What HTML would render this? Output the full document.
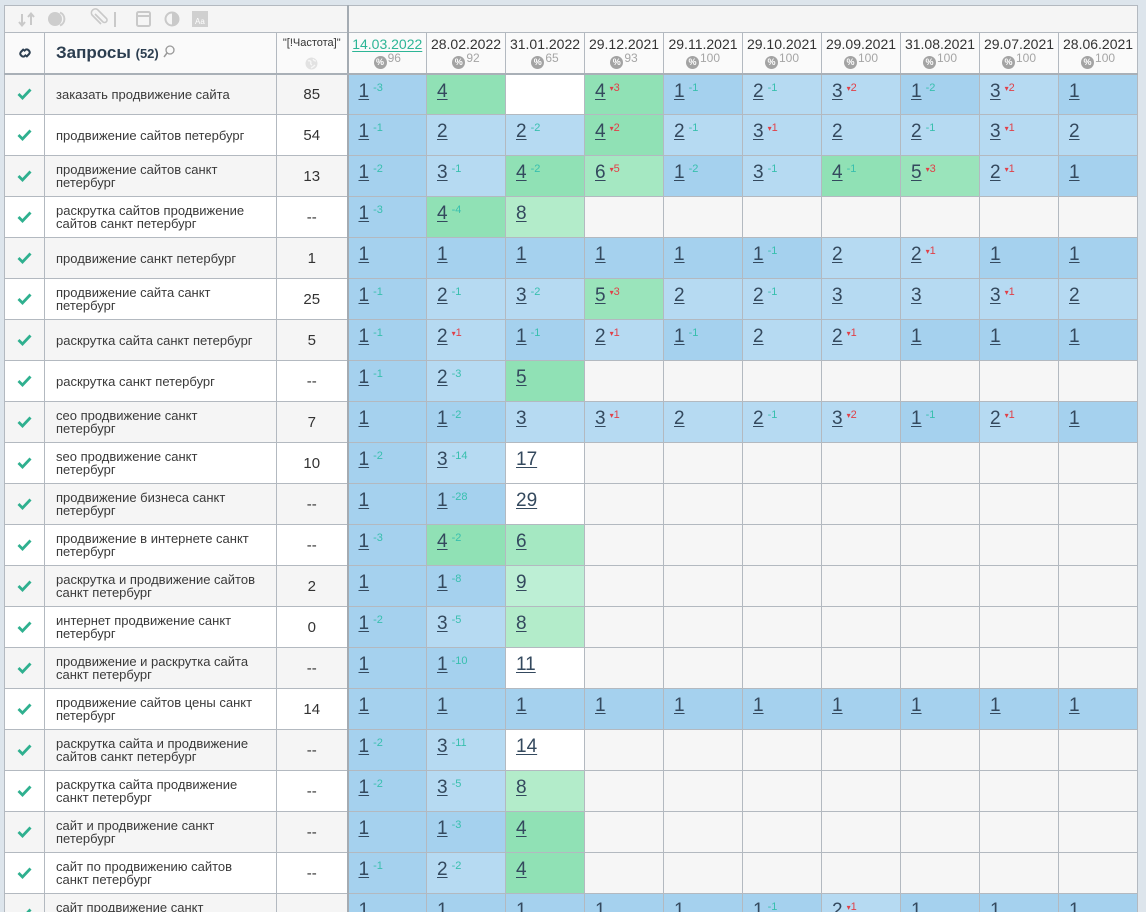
<!DOCTYPE html>
<html><head><meta charset="utf-8">
<style>
body{margin:0;width:1146px;height:912px;background:#dde5ec;overflow:hidden;font-family:"Liberation Sans","DejaVu Sans",sans-serif;position:relative}
#w{position:absolute;left:4px;top:5px;width:1134px;height:907px;overflow:hidden}
table{border-collapse:collapse;table-layout:fixed;width:1133px}
td{border:1px solid #b3b9c0;padding:0;overflow:hidden;white-space:nowrap}
tr.t{height:27px}
tr.t td{background:#f5f5f5}
tr.h{height:41px}
tr.h td{background:#fafafa;border-bottom:2px solid #a9b0b7}
tr.r{height:41px}
.sep{border-left:2px solid #a4abb2 !important}
tr.o td.k,tr.o td.q,tr.o td.f{background:#f5f5f5}
tr.e td.k,tr.e td.q,tr.e td.f{background:#ffffff}
td.k{text-align:center;vertical-align:middle}
td.k svg{display:block;margin:0 auto}
td.q{padding-left:11px;font-size:13px;line-height:13px;color:#3a3a3a}
td.f{text-align:center;font-size:15px;color:#333}
td.p{vertical-align:top;padding:6px 0 0 10px;font-size:19px;line-height:22px;color:#34495e}
td.p u{text-decoration:underline;text-underline-offset:2px;text-decoration-thickness:1px}
td.p i{font-style:normal;font-size:11px;position:relative;top:-6px;margin-left:4px}
i.g{color:#38bfae}
i.r{color:#e04048}
i.g:before{content:"-"}
i.r:before{content:"▾";font-size:8px}
.a{background:#a5d1ee}
.b{background:#b6daf2}
.c{background:#90e1b5}
.c5{background:#9ae4bb}
.d{background:#a5e8c2}
.e8{background:#b3ecca}
.f9{background:#bdefd5}
.w{background:#ffffff}
.n{background:#f6f6f6}
td.hd{vertical-align:top;padding-top:3px;text-align:center;line-height:16px;font-size:14px;color:#333}
td.hd .pc{margin-top:4px;height:14px;line-height:14px;font-size:12px;color:#a5a5a5;position:relative}
td.hd .pc b{display:inline-block;width:13px;height:13px;border-radius:50%;background:#a3a3a3;color:#fff;font-size:9px;line-height:13px;text-align:center;vertical-align:top}
td.hd .pc span{position:relative;top:-5px;margin-left:1px}
td.hd .first{color:#2db596;text-decoration:underline;text-underline-offset:2px}
</style></head><body>
<div id="w">
<table>
<colgroup><col style="width:40px"><col style="width:232px"><col style="width:71px"><col style="width:79px"><col style="width:79px"><col style="width:79px"><col style="width:79px"><col style="width:79px"><col style="width:79px"><col style="width:79px"><col style="width:79px"><col style="width:79px"><col style="width:79px"></colgroup>
<tr class="t"><td colspan="3" style="position:relative">
<svg width="230" height="26" style="position:absolute;left:0;top:0">
<g fill="none" stroke="#c9c9c9" stroke-width="2">
<path d="M17 8 V19 M14 16 L17 19.5 L20 16"/><path d="M26 19 V8 M23 11 L26 7.5 L29 11"/>
<path d="M90 8 l8 8 a2.5 2.5 0 0 0 3.5 -3.5 l-9 -9 a4 4 0 0 0 -5.5 5.5 l9 9" stroke-width="1.6"/>
<path d="M110 6 V21"/>
<rect x="132" y="6" width="13" height="14" rx="1.5"/><path d="M132 10 H145"/>
<circle cx="167" cy="13" r="6.5"/>
</g>
<circle cx="50" cy="13" r="7" fill="#cdcdcd"/><path d="M55 6.5 a7 7 0 0 1 0 13" fill="none" stroke="#cdcdcd" stroke-width="2"/>
<path d="M167 6.5 a6.5 6.5 0 0 1 0 13 z" fill="#c9c9c9"/>
<rect x="187" y="5" width="16" height="16" fill="#d0d0d0"/>
<text x="190" y="18" font-size="8" fill="#fff" font-family="Liberation Sans">Aa</text>
</svg></td><td colspan="10" class="sep"></td></tr>
<tr class="h">
<td class="k"><svg width="16" height="16" viewBox="0 0 14 14"><g fill="none" stroke="#2c3e50" stroke-width="1.8"><path d="M6 3.5 L3.5 6 a2 2 0 0 0 0 3 l0.5 0.5 a2 2 0 0 0 3 0 l1 -1"/><path d="M8 10.5 L10.5 8 a2 2 0 0 0 0 -3 l-0.5 -0.5 a2 2 0 0 0 -3 0 l-1 1"/></g></svg></td>
<td style="padding-left:11px;color:#2c3e50;font-size:17px;font-weight:bold;vertical-align:middle">Запросы <span style="font-size:13px">(52)</span> <svg width="12" height="13" viewBox="0 0 12 13" style="vertical-align:0"><circle cx="7" cy="5" r="4" fill="none" stroke="#999" stroke-width="1.3"/><path d="M4 8 L1 12" stroke="#999" stroke-width="1.5"/></svg></td>
<td style="vertical-align:top;text-align:center;font-size:11px;color:#333;padding-top:4px;line-height:12px">"[!Частота]"<svg width="13" height="13" style="display:block;margin:8px auto 0"><circle cx="6.5" cy="6.5" r="6" fill="#e2e2e2"/><path d="M3 4 q2 -1 3 1 q-1 2 1 3 M8 2 q1 2 3 2 M6 11 q2 -1 4 -3" stroke="#f6f6f6" stroke-width="1.3" fill="none"/></svg></td>
<td class="hd sep"><div class="first">14.03.2022</div><div class="pc"><b>%</b><span>96</span></div></td>
<td class="hd"><div>28.02.2022</div><div class="pc"><b>%</b><span>92</span></div></td>
<td class="hd"><div>31.01.2022</div><div class="pc"><b>%</b><span>65</span></div></td>
<td class="hd"><div>29.12.2021</div><div class="pc"><b>%</b><span>93</span></div></td>
<td class="hd"><div>29.11.2021</div><div class="pc"><b>%</b><span>100</span></div></td>
<td class="hd"><div>29.10.2021</div><div class="pc"><b>%</b><span>100</span></div></td>
<td class="hd"><div>29.09.2021</div><div class="pc"><b>%</b><span>100</span></div></td>
<td class="hd"><div>31.08.2021</div><div class="pc"><b>%</b><span>100</span></div></td>
<td class="hd"><div>29.07.2021</div><div class="pc"><b>%</b><span>100</span></div></td>
<td class="hd"><div>28.06.2021</div><div class="pc"><b>%</b><span>100</span></div></td>
</tr>

<tr class="r o"><td class="k"><svg width="15" height="12"><path d="M1.5 6 L5.5 10 L13.5 1.5" stroke="#2fb08f" stroke-width="2.8" fill="none"/></svg></td><td class="q">заказать продвижение сайта</td><td class="f">85</td>
<td class="p a sep"><u>1</u><i class="g">3</i></td><td class="p c"><u>4</u></td><td class="p w"></td><td class="p c"><u>4</u><i class="r">3</i></td><td class="p a"><u>1</u><i class="g">1</i></td><td class="p b"><u>2</u><i class="g">1</i></td><td class="p b"><u>3</u><i class="r">2</i></td><td class="p a"><u>1</u><i class="g">2</i></td><td class="p b"><u>3</u><i class="r">2</i></td><td class="p a"><u>1</u></td></tr>

<tr class="r e"><td class="k"><svg width="15" height="12"><path d="M1.5 6 L5.5 10 L13.5 1.5" stroke="#2fb08f" stroke-width="2.8" fill="none"/></svg></td><td class="q">продвижение сайтов петербург</td><td class="f">54</td>
<td class="p a sep"><u>1</u><i class="g">1</i></td><td class="p b"><u>2</u></td><td class="p b"><u>2</u><i class="g">2</i></td><td class="p c"><u>4</u><i class="r">2</i></td><td class="p b"><u>2</u><i class="g">1</i></td><td class="p b"><u>3</u><i class="r">1</i></td><td class="p b"><u>2</u></td><td class="p b"><u>2</u><i class="g">1</i></td><td class="p b"><u>3</u><i class="r">1</i></td><td class="p b"><u>2</u></td></tr>

<tr class="r o"><td class="k"><svg width="15" height="12"><path d="M1.5 6 L5.5 10 L13.5 1.5" stroke="#2fb08f" stroke-width="2.8" fill="none"/></svg></td><td class="q">продвижение сайтов санкт<br>петербург</td><td class="f">13</td>
<td class="p a sep"><u>1</u><i class="g">2</i></td><td class="p b"><u>3</u><i class="g">1</i></td><td class="p c"><u>4</u><i class="g">2</i></td><td class="p d"><u>6</u><i class="r">5</i></td><td class="p a"><u>1</u><i class="g">2</i></td><td class="p b"><u>3</u><i class="g">1</i></td><td class="p c"><u>4</u><i class="g">1</i></td><td class="p c5"><u>5</u><i class="r">3</i></td><td class="p b"><u>2</u><i class="r">1</i></td><td class="p a"><u>1</u></td></tr>

<tr class="r e"><td class="k"><svg width="15" height="12"><path d="M1.5 6 L5.5 10 L13.5 1.5" stroke="#2fb08f" stroke-width="2.8" fill="none"/></svg></td><td class="q">раскрутка сайтов продвижение<br>сайтов санкт петербург</td><td class="f">--</td>
<td class="p a sep"><u>1</u><i class="g">3</i></td><td class="p c"><u>4</u><i class="g">4</i></td><td class="p e8"><u>8</u></td><td class="p n"></td><td class="p n"></td><td class="p n"></td><td class="p n"></td><td class="p n"></td><td class="p n"></td><td class="p n"></td></tr>

<tr class="r o"><td class="k"><svg width="15" height="12"><path d="M1.5 6 L5.5 10 L13.5 1.5" stroke="#2fb08f" stroke-width="2.8" fill="none"/></svg></td><td class="q">продвижение санкт петербург</td><td class="f">1</td>
<td class="p a sep"><u>1</u></td><td class="p a"><u>1</u></td><td class="p a"><u>1</u></td><td class="p a"><u>1</u></td><td class="p a"><u>1</u></td><td class="p a"><u>1</u><i class="g">1</i></td><td class="p b"><u>2</u></td><td class="p b"><u>2</u><i class="r">1</i></td><td class="p a"><u>1</u></td><td class="p a"><u>1</u></td></tr>

<tr class="r e"><td class="k"><svg width="15" height="12"><path d="M1.5 6 L5.5 10 L13.5 1.5" stroke="#2fb08f" stroke-width="2.8" fill="none"/></svg></td><td class="q">продвижение сайта санкт<br>петербург</td><td class="f">25</td>
<td class="p a sep"><u>1</u><i class="g">1</i></td><td class="p b"><u>2</u><i class="g">1</i></td><td class="p b"><u>3</u><i class="g">2</i></td><td class="p c5"><u>5</u><i class="r">3</i></td><td class="p b"><u>2</u></td><td class="p b"><u>2</u><i class="g">1</i></td><td class="p b"><u>3</u></td><td class="p b"><u>3</u></td><td class="p b"><u>3</u><i class="r">1</i></td><td class="p b"><u>2</u></td></tr>

<tr class="r o"><td class="k"><svg width="15" height="12"><path d="M1.5 6 L5.5 10 L13.5 1.5" stroke="#2fb08f" stroke-width="2.8" fill="none"/></svg></td><td class="q">раскрутка сайта санкт петербург</td><td class="f">5</td>
<td class="p a sep"><u>1</u><i class="g">1</i></td><td class="p b"><u>2</u><i class="r">1</i></td><td class="p a"><u>1</u><i class="g">1</i></td><td class="p b"><u>2</u><i class="r">1</i></td><td class="p a"><u>1</u><i class="g">1</i></td><td class="p b"><u>2</u></td><td class="p b"><u>2</u><i class="r">1</i></td><td class="p a"><u>1</u></td><td class="p a"><u>1</u></td><td class="p a"><u>1</u></td></tr>

<tr class="r e"><td class="k"><svg width="15" height="12"><path d="M1.5 6 L5.5 10 L13.5 1.5" stroke="#2fb08f" stroke-width="2.8" fill="none"/></svg></td><td class="q">раскрутка санкт петербург</td><td class="f">--</td>
<td class="p a sep"><u>1</u><i class="g">1</i></td><td class="p b"><u>2</u><i class="g">3</i></td><td class="p c"><u>5</u></td><td class="p n"></td><td class="p n"></td><td class="p n"></td><td class="p n"></td><td class="p n"></td><td class="p n"></td><td class="p n"></td></tr>

<tr class="r o"><td class="k"><svg width="15" height="12"><path d="M1.5 6 L5.5 10 L13.5 1.5" stroke="#2fb08f" stroke-width="2.8" fill="none"/></svg></td><td class="q">сео продвижение санкт<br>петербург</td><td class="f">7</td>
<td class="p a sep"><u>1</u></td><td class="p a"><u>1</u><i class="g">2</i></td><td class="p b"><u>3</u></td><td class="p b"><u>3</u><i class="r">1</i></td><td class="p b"><u>2</u></td><td class="p b"><u>2</u><i class="g">1</i></td><td class="p b"><u>3</u><i class="r">2</i></td><td class="p a"><u>1</u><i class="g">1</i></td><td class="p b"><u>2</u><i class="r">1</i></td><td class="p a"><u>1</u></td></tr>

<tr class="r e"><td class="k"><svg width="15" height="12"><path d="M1.5 6 L5.5 10 L13.5 1.5" stroke="#2fb08f" stroke-width="2.8" fill="none"/></svg></td><td class="q">seo продвижение санкт<br>петербург</td><td class="f">10</td>
<td class="p a sep"><u>1</u><i class="g">2</i></td><td class="p b"><u>3</u><i class="g">14</i></td><td class="p w"><u>17</u></td><td class="p n"></td><td class="p n"></td><td class="p n"></td><td class="p n"></td><td class="p n"></td><td class="p n"></td><td class="p n"></td></tr>

<tr class="r o"><td class="k"><svg width="15" height="12"><path d="M1.5 6 L5.5 10 L13.5 1.5" stroke="#2fb08f" stroke-width="2.8" fill="none"/></svg></td><td class="q">продвижение бизнеса санкт<br>петербург</td><td class="f">--</td>
<td class="p a sep"><u>1</u></td><td class="p a"><u>1</u><i class="g">28</i></td><td class="p w"><u>29</u></td><td class="p n"></td><td class="p n"></td><td class="p n"></td><td class="p n"></td><td class="p n"></td><td class="p n"></td><td class="p n"></td></tr>

<tr class="r e"><td class="k"><svg width="15" height="12"><path d="M1.5 6 L5.5 10 L13.5 1.5" stroke="#2fb08f" stroke-width="2.8" fill="none"/></svg></td><td class="q">продвижение в интернете санкт<br>петербург</td><td class="f">--</td>
<td class="p a sep"><u>1</u><i class="g">3</i></td><td class="p c"><u>4</u><i class="g">2</i></td><td class="p d"><u>6</u></td><td class="p n"></td><td class="p n"></td><td class="p n"></td><td class="p n"></td><td class="p n"></td><td class="p n"></td><td class="p n"></td></tr>

<tr class="r o"><td class="k"><svg width="15" height="12"><path d="M1.5 6 L5.5 10 L13.5 1.5" stroke="#2fb08f" stroke-width="2.8" fill="none"/></svg></td><td class="q">раскрутка и продвижение сайтов<br>санкт петербург</td><td class="f">2</td>
<td class="p a sep"><u>1</u></td><td class="p a"><u>1</u><i class="g">8</i></td><td class="p f9"><u>9</u></td><td class="p n"></td><td class="p n"></td><td class="p n"></td><td class="p n"></td><td class="p n"></td><td class="p n"></td><td class="p n"></td></tr>

<tr class="r e"><td class="k"><svg width="15" height="12"><path d="M1.5 6 L5.5 10 L13.5 1.5" stroke="#2fb08f" stroke-width="2.8" fill="none"/></svg></td><td class="q">интернет продвижение санкт<br>петербург</td><td class="f">0</td>
<td class="p a sep"><u>1</u><i class="g">2</i></td><td class="p b"><u>3</u><i class="g">5</i></td><td class="p e8"><u>8</u></td><td class="p n"></td><td class="p n"></td><td class="p n"></td><td class="p n"></td><td class="p n"></td><td class="p n"></td><td class="p n"></td></tr>

<tr class="r o"><td class="k"><svg width="15" height="12"><path d="M1.5 6 L5.5 10 L13.5 1.5" stroke="#2fb08f" stroke-width="2.8" fill="none"/></svg></td><td class="q">продвижение и раскрутка сайта<br>санкт петербург</td><td class="f">--</td>
<td class="p a sep"><u>1</u></td><td class="p a"><u>1</u><i class="g">10</i></td><td class="p w"><u>11</u></td><td class="p n"></td><td class="p n"></td><td class="p n"></td><td class="p n"></td><td class="p n"></td><td class="p n"></td><td class="p n"></td></tr>

<tr class="r e"><td class="k"><svg width="15" height="12"><path d="M1.5 6 L5.5 10 L13.5 1.5" stroke="#2fb08f" stroke-width="2.8" fill="none"/></svg></td><td class="q">продвижение сайтов цены санкт<br>петербург</td><td class="f">14</td>
<td class="p a sep"><u>1</u></td><td class="p a"><u>1</u></td><td class="p a"><u>1</u></td><td class="p a"><u>1</u></td><td class="p a"><u>1</u></td><td class="p a"><u>1</u></td><td class="p a"><u>1</u></td><td class="p a"><u>1</u></td><td class="p a"><u>1</u></td><td class="p a"><u>1</u></td></tr>

<tr class="r o"><td class="k"><svg width="15" height="12"><path d="M1.5 6 L5.5 10 L13.5 1.5" stroke="#2fb08f" stroke-width="2.8" fill="none"/></svg></td><td class="q">раскрутка сайта и продвижение<br>сайтов санкт петербург</td><td class="f">--</td>
<td class="p a sep"><u>1</u><i class="g">2</i></td><td class="p b"><u>3</u><i class="g">11</i></td><td class="p w"><u>14</u></td><td class="p n"></td><td class="p n"></td><td class="p n"></td><td class="p n"></td><td class="p n"></td><td class="p n"></td><td class="p n"></td></tr>

<tr class="r e"><td class="k"><svg width="15" height="12"><path d="M1.5 6 L5.5 10 L13.5 1.5" stroke="#2fb08f" stroke-width="2.8" fill="none"/></svg></td><td class="q">раскрутка сайта продвижение<br>санкт петербург</td><td class="f">--</td>
<td class="p a sep"><u>1</u><i class="g">2</i></td><td class="p b"><u>3</u><i class="g">5</i></td><td class="p e8"><u>8</u></td><td class="p n"></td><td class="p n"></td><td class="p n"></td><td class="p n"></td><td class="p n"></td><td class="p n"></td><td class="p n"></td></tr>

<tr class="r o"><td class="k"><svg width="15" height="12"><path d="M1.5 6 L5.5 10 L13.5 1.5" stroke="#2fb08f" stroke-width="2.8" fill="none"/></svg></td><td class="q">сайт и продвижение санкт<br>петербург</td><td class="f">--</td>
<td class="p a sep"><u>1</u></td><td class="p a"><u>1</u><i class="g">3</i></td><td class="p c"><u>4</u></td><td class="p n"></td><td class="p n"></td><td class="p n"></td><td class="p n"></td><td class="p n"></td><td class="p n"></td><td class="p n"></td></tr>

<tr class="r e"><td class="k"><svg width="15" height="12"><path d="M1.5 6 L5.5 10 L13.5 1.5" stroke="#2fb08f" stroke-width="2.8" fill="none"/></svg></td><td class="q">сайт по продвижению сайтов<br>санкт петербург</td><td class="f">--</td>
<td class="p a sep"><u>1</u><i class="g">1</i></td><td class="p b"><u>2</u><i class="g">2</i></td><td class="p c"><u>4</u></td><td class="p n"></td><td class="p n"></td><td class="p n"></td><td class="p n"></td><td class="p n"></td><td class="p n"></td><td class="p n"></td></tr>

<tr class="r o"><td class="k"><svg width="15" height="12"><path d="M1.5 6 L5.5 10 L13.5 1.5" stroke="#2fb08f" stroke-width="2.8" fill="none"/></svg></td><td class="q">сайт продвижение санкт<br>петербург</td><td class="f">--</td>
<td class="p a sep"><u>1</u></td><td class="p a"><u>1</u></td><td class="p a"><u>1</u></td><td class="p a"><u>1</u></td><td class="p a"><u>1</u></td><td class="p a"><u>1</u><i class="g">1</i></td><td class="p b"><u>2</u><i class="r">1</i></td><td class="p a"><u>1</u></td><td class="p a"><u>1</u></td><td class="p a"><u>1</u></td></tr>
</table>
</div>
</body></html>
